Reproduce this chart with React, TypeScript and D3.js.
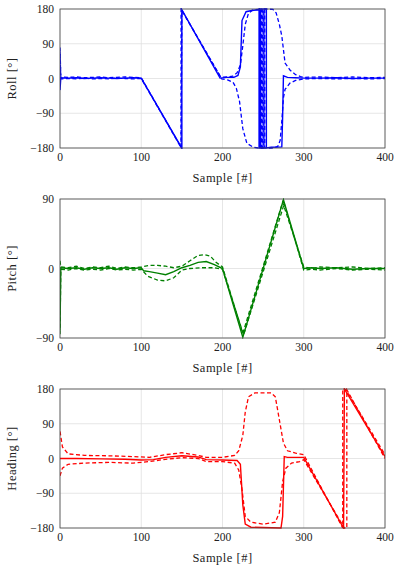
import React from 'react';
import * as d3 from 'd3';

type Pt = [number, number];

// x ticks shared by all panels
const xTicks = [0, 100, 200, 300, 400];
const angleTicks = [-180, -90, 0, 90, 180];
const pitchTicks = [-90, 0, 90];

// Roll
const rollEst: Pt[] = [
  [0, -30], [1, 2], [10, 1], [20, 2], [30, 0], [40, 1], [50, 2], [60, 1], [70, 0], [80, 1], [90, 2], [100, 1],
  [150, -180], [150, 178], [197, 1], [205, 3], [214, 3], [219, 8], [222, 30], [224, 150], [229, 173], [236, 176], [244, 178],
  [245, 180], [245, -180], [246, -180], [246, 180], [247, 180], [247, -180], [251, -180], [251, 180], [254, 180], [254, -180],
  [260, -178], [273, -177], [274, -100], [275, 7], [280, 3], [290, 2], [300, 1], [320, 1], [340, 2], [360, 0], [380, 1], [400, 1],
];
const rollUpper: Pt[] = [
  [0, 80], [1, 4], [10, 3], [20, 4], [30, 2], [40, 3], [50, 4], [60, 2], [70, 3], [80, 4], [90, 3], [100, 2],
  [149, -178], [149, 180], [198, 3], [206, 4], [213, 6], [218, 15], [222, 35], [225, 85], [228, 140], [232, 169], [237, 177], [244, 179],
  [249, 180], [249, -180], [250, -180], [250, 180], [262, 179], [266, 170], [270, 140], [273, 110], [277, 40], [283, 22], [290, 10], [296, 5],
  [300, 3], [320, 4], [340, 2], [360, 4], [380, 2], [400, 3],
];
const rollLower: Pt[] = [
  [0, 70], [1, -1], [10, 0], [20, -1], [30, 1], [40, -1], [50, 0], [60, -1], [70, 1], [80, 0], [90, -1], [100, 0],
  [149, -179], [150, 176], [199, -1], [207, -4], [213, -10], [217, -25], [221, -60], [225, -130], [230, -168], [238, -178], [244, -180],
  [248, -180], [248, 180], [252, 180], [252, -180], [262, -180], [268, -176], [271, -160], [273, -110], [275, -50], [277, -28], [283, -12], [290, -5],
  [300, -1], [320, 0], [340, -1], [360, 0], [380, -1], [400, 0],
];

// Pitch
const pitchEst: Pt[] = [
  [0, -80], [1, 1], [10, 0], [20, 1], [30, -1], [40, 1], [50, 0], [60, 1], [70, -1], [80, 1], [90, 0], [100, 1],
  [103, -3], [110, -4], [120, -6], [130, -8], [140, -4], [150, 1], [160, 4], [170, 8], [180, 9], [190, 5], [200, 0],
  [225, -89], [275, 89], [300, 0], [310, 1], [320, 0], [340, 1], [360, -1], [380, 0], [400, 0],
];
const pitchUpper: Pt[] = [
  [0, 10], [1, 2], [10, 1], [20, 3], [30, 0], [40, 2], [50, 1], [60, 3], [70, 0], [80, 2], [90, 1], [100, 2],
  [110, 4], [120, 4], [130, 3], [140, 1], [150, 3], [160, 10], [170, 17], [178, 18], [185, 16], [192, 8], [200, 2],
  [225, -84], [274, 86], [300, 2], [310, 0], [320, 2], [340, 1], [360, 2], [380, 0], [400, 1],
];
const pitchLower: Pt[] = [
  [0, -85], [1, -1], [10, -2], [20, 0], [30, -2], [40, -1], [50, -2], [60, 0], [70, -2], [80, -1], [90, -2], [100, -1],
  [108, -10], [120, -15], [130, -16], [140, -12], [150, -2], [160, 0], [175, 1], [190, 1], [200, -1],
  [226, -86], [276, 84], [300, -2], [310, -1], [320, -2], [340, 0], [360, -2], [380, -1], [400, -2],
];

// Heading
const headEst: Pt[] = [
  [0, 0], [20, 0], [50, -1], [80, -2], [100, -4], [115, -3], [130, 3], [150, 7], [170, 4], [180, -3], [200, -4], [218, -5],
  [222, -15], [225, -120], [228, -170], [235, -178], [272, -180], [274, -150], [276, 5], [280, 3], [300, 3],
  [349, -180], [350, 180], [400, 5],
];
const headUpper: Pt[] = [
  [0, 70], [3, 30], [10, 12], [30, 8], [60, 7], [90, 5], [110, 3], [130, 10], [150, 15], [170, 8], [180, 3], [200, 3],
  [215, 8], [220, 20], [225, 60], [228, 120], [232, 160], [240, 170], [260, 170], [265, 160], [270, 100], [275, 40],
  [280, 20], [290, 14], [300, 10], [347, -176], [348, -180], [348, 180], [352, 178], [400, 10],
];
const headLower: Pt[] = [
  [0, -45], [3, -25], [10, -15], [30, -12], [60, -10], [90, -12], [110, -8], [130, -2], [150, 2], [170, 0], [180, -8], [200, -8],
  [215, -12], [220, -30], [224, -80], [228, -150], [235, -165], [250, -170], [265, -165], [270, -140], [274, -60],
  [278, -25], [285, -12], [295, -8], [300, -3], [350, -180], [353, -180], [353, 178], [400, 0],
];

const W = 400;
const H = 569;
const left = 60;
const right = 385;
const plotH = 139;
const font = '"Liberation Serif", "DejaVu Serif", serif';

type PanelProps = {
  top: number;
  label: string;
  color: string;
  domain: [number, number];
  ticks: number[];
  est: Pt[];
  upper: Pt[];
  lower: Pt[];
};

const Panel = ({ top, label, color, domain, ticks, est, upper, lower }: PanelProps) => {
  const x = d3.scaleLinear().domain([0, 400]).range([left, right]);
  const y = d3.scaleLinear().domain(domain).range([top + plotH, top]);
  const line = d3.line<Pt>().x((d) => x(d[0])).y((d) => y(d[1]));
  const clipId = `clip-${label.replace(/\W/g, '')}`;

  return (
    <g>
      <defs>
        <clipPath id={clipId}>
          <rect x={left} y={top - 1} width={right - left} height={plotH + 2} />
        </clipPath>
      </defs>
      {xTicks.map((t) => (
        <line key={`gx${t}`} x1={x(t)} x2={x(t)} y1={top} y2={top + plotH} stroke="#e0e0e0" strokeWidth={0.8} />
      ))}
      {ticks.map((t) => (
        <line key={`gy${t}`} x1={left} x2={right} y1={y(t)} y2={y(t)} stroke="#e0e0e0" strokeWidth={0.8} />
      ))}
      <g clipPath={`url(#${clipId})`} fill="none" stroke={color}>
        <path d={line(upper) || ''} strokeWidth={1.3} strokeDasharray="4 2.5" />
        <path d={line(lower) || ''} strokeWidth={1.3} strokeDasharray="4 2.5" />
        <path d={line(est) || ''} strokeWidth={1.4} />
      </g>
      <rect x={left} y={top} width={right - left} height={plotH} fill="none" stroke="#444" strokeWidth={0.8} />
      {ticks.map((t) => (
        <text key={`ty${t}`} x={left - 6} y={y(t)} dy="0.35em" textAnchor="end" fontSize={11.5} fontFamily={font} fill="#222">
          {t < 0 ? `\u2212${-t}` : t}
        </text>
      ))}
      {xTicks.map((t) => (
        <text key={`tx${t}`} x={x(t)} y={top + plotH + 13} textAnchor="middle" fontSize={11.5} fontFamily={font} fill="#222">
          {t}
        </text>
      ))}
      <text
        x={(left + right) / 2}
        y={top + plotH + 34}
        textAnchor="middle"
        fontSize={12.5}
        letterSpacing={0.5}
        fontFamily={font}
        fill="#222"
      >
        Sample [#]
      </text>
      <text
        transform={`translate(16,${top + plotH / 2}) rotate(-90)`}
        textAnchor="middle"
        fontSize={12.5}
        letterSpacing={0.5}
        fontFamily={font}
        fill="#222"
      >
        {label}
      </text>
    </g>
  );
};

export default function App() {
  return (
    <svg width={W} height={H} style={{ position: 'absolute', left: 0, top: 0, background: '#fff' }}>
      <Panel top={9} label="Roll [°]" color="#0000ff" domain={[-180, 180]} ticks={angleTicks} est={rollEst} upper={rollUpper} lower={rollLower} />
      <Panel top={199} label="Pitch [°]" color="#008000" domain={[-90, 90]} ticks={pitchTicks} est={pitchEst} upper={pitchUpper} lower={pitchLower} />
      <Panel top={389} label="Heading [°]" color="#ff0000" domain={[-180, 180]} ticks={angleTicks} est={headEst} upper={headUpper} lower={headLower} />
    </svg>
  );
}
